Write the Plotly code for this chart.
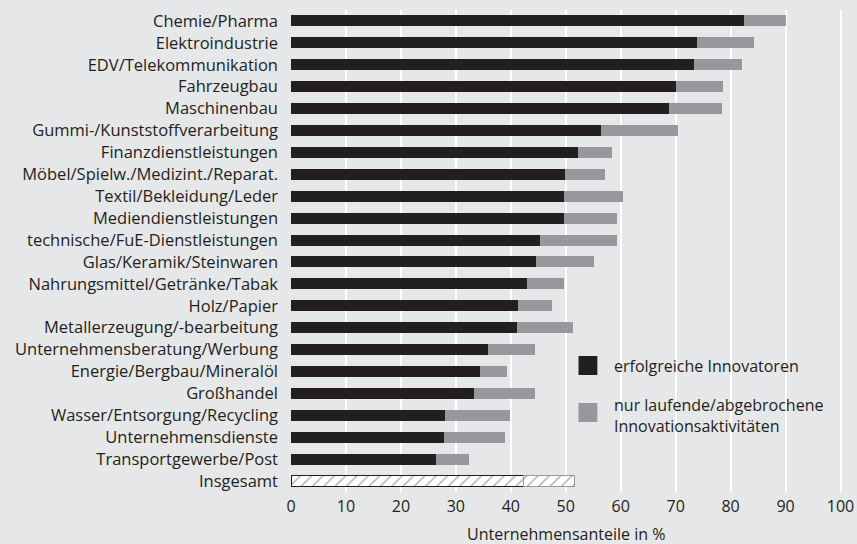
import plotly.graph_objects as go

branchen = [
    "Chemie/Pharma", "Elektroindustrie", "EDV/Telekommunikation", "Fahrzeugbau",
    "Maschinenbau", "Gummi-/Kunststoffverarbeitung", "Finanzdienstleistungen",
    "Möbel/Spielw./Medizint./Reparat.", "Textil/Bekleidung/Leder",
    "Mediendienstleistungen", "technische/FuE-Dienstleistungen",
    "Glas/Keramik/Steinwaren", "Nahrungsmittel/Getränke/Tabak", "Holz/Papier",
    "Metallerzeugung/-bearbeitung", "Unternehmensberatung/Werbung",
    "Energie/Bergbau/Mineralöl", "Großhandel", "Wasser/Entsorgung/Recycling",
    "Unternehmensdienste", "Transportgewerbe/Post", "Insgesamt",
]
# Anteil erfolgreiche Innovatoren (%)
erfolgreich = [82.5, 73.8, 73.3, 70.0, 68.7, 56.4, 52.2, 49.8, 49.6, 49.6, 45.3,
               44.5, 42.9, 41.3, 41.1, 35.8, 34.4, 33.3, 28.0, 27.8, 26.4, 42.4]
# Summe inkl. nur laufende/abgebrochene Aktivitaeten (%)
gesamt = [90.0, 84.2, 82.0, 78.7, 78.5, 70.4, 58.5, 57.1, 60.4, 59.3, 59.3,
          55.1, 49.6, 47.5, 51.3, 44.4, 39.3, 44.4, 39.8, 38.9, 32.4, 51.6]
laufend = [round(g - e, 1) for g, e in zip(gesamt, erfolgreich)]

DARK = "#231F20"
GRAY = "#97989B"
BG = "#E6E7E8"
n = len(branchen)
last = [i == n - 1 for i in range(n)]

fig = go.Figure()
fig.add_trace(go.Bar(
    y=branchen, x=erfolgreich, orientation="h", name="erfolgreiche Innovatoren",
    width=0.5,
    marker=dict(
        color=["white" if l else DARK for l in last],
        line=dict(color=DARK, width=[1 if l else 0 for l in last]),
        pattern=dict(shape=["/" if l else "" for l in last],
                     fgcolor=DARK, bgcolor="white", size=8, solidity=0.15),
    ),
    showlegend=False,
))
fig.add_trace(go.Bar(
    y=branchen, x=laufend, orientation="h",
    name="nur laufende/abgebrochene Innovationsaktivitäten",
    width=0.5,
    marker=dict(
        color=["white" if l else GRAY for l in last],
        line=dict(color=GRAY, width=[1 if l else 0 for l in last]),
        pattern=dict(shape=["/" if l else "" for l in last],
                     fgcolor=GRAY, bgcolor="white", size=8, solidity=0.15),
    ),
    showlegend=False,
))

# legend drawn by hand (larger swatches than plotly's default)
fig.add_shape(type="rect", xref="paper", yref="paper", x0=0.518, x1=0.552,
              y0=1 - 365 / 482, y1=1 - 346 / 482, fillcolor=DARK, line_width=0)
fig.add_shape(type="rect", xref="paper", yref="paper", x0=0.518, x1=0.552,
              y0=1 - 412 / 482, y1=1 - 393 / 482, fillcolor=GRAY, line_width=0)
fig.add_annotation(x=0.579, y=1 - 356 / 482, xref="paper", yref="paper",
                   xanchor="left", yanchor="middle", showarrow=False, align="left",
                   text="erfolgreiche Innovatoren")
fig.add_annotation(x=0.579, y=1 - 405 / 482, xref="paper", yref="paper",
                   xanchor="left", yanchor="middle", showarrow=False, align="left",
                   text="nur laufende/abgebrochene<br>Innovationsaktivitäten")
# x-axis title
fig.add_annotation(x=50, y=-42 / 482, xref="x", yref="paper",
                   xanchor="center", yanchor="middle", showarrow=False,
                   text="Unternehmensanteile in %")

fig.update_layout(
    width=857, height=544,
    barmode="stack",
    hovermode=False,
    paper_bgcolor=BG, plot_bgcolor=BG,
    margin=dict(l=291, r=10.5, t=10, b=52),
    font=dict(family="Open Sans", size=16, color=DARK),
)
fig.update_xaxes(
    range=[0, 101], tickvals=list(range(0, 101, 10)),
    showgrid=True, gridcolor="white", gridwidth=2, zeroline=False,
    ticks="", ticklabelstandoff=3, automargin=False,
)
fig.update_yaxes(
    autorange="reversed", showgrid=False, ticks="", ticklabelstandoff=12,
    automargin=False, tickfont=dict(size=16.5),
)

fig.write_html(
    "out.html",
    config={"displayModeBar": False},
    post_script="document.body.style.margin='0';document.body.style.background='#E6E7E8';",
)
